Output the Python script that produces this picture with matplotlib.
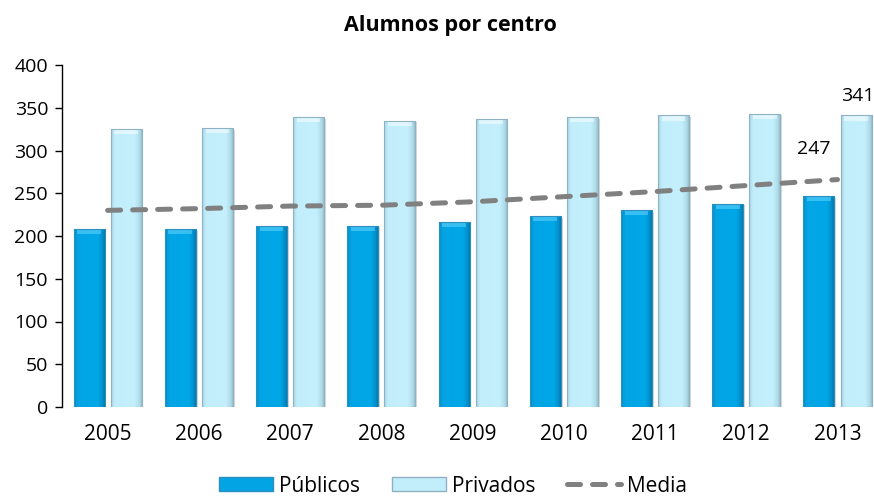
import numpy as np
import matplotlib
matplotlib.use("Agg")
import matplotlib.pyplot as plt
from matplotlib.patches import Rectangle
from matplotlib.lines import Line2D
from matplotlib.colors import LinearSegmentedColormap

years = ["2005", "2006", "2007", "2008", "2009", "2010", "2011", "2012", "2013"]
publicos = [208, 208, 212, 212, 216, 223, 230, 238, 247]
privados = [325, 326, 339, 335, 337, 339, 341, 343, 341]
media = [230, 232, 235, 236, 240, 246, 252, 259, 266]
yticks = [0, 50, 100, 150, 200, 250, 300, 350, 400]

plt.rcParams['font.family'] = ['Open Sans', 'DejaVu Sans']

W, H = 874, 497
fig = plt.figure(figsize=(W / 100, H / 100), dpi=100)
ax = fig.add_axes([62 / W, 90 / H, 812 / W, 342 / H])

x = np.arange(len(years))
bw = 0.34
off = 0.203

pub_cmap = LinearSegmentedColormap.from_list(
    "pub", [(0, "#0790c8"), (0.12, "#03a4e4"), (0.75, "#00a8e8"), (0.9, "#0390cc"), (1, "#04709e")])
priv_cmap = LinearSegmentedColormap.from_list(
    "priv", [(0, "#a8d4e4"), (0.12, "#c2eefc"), (0.75, "#c4f0fd"), (0.9, "#b0dcea"), (1, "#90b8c6")])
grad = np.linspace(0, 1, 64).reshape(1, -1)

def draw_bars(xs, vals, cmap, edge, topcol):
    bars = ax.bar(xs, vals, width=bw, color="none", edgecolor=edge, linewidth=0.8, zorder=3)
    for b in bars:
        bx, by = b.get_x(), b.get_y()
        bwid, bh = b.get_width(), b.get_height()
        ax.add_patch(Rectangle((bx + 0.02, by - 2), bwid, bh, facecolor="#b0b0b0", alpha=0.5,
                               edgecolor="none", zorder=1.5))
        im = ax.imshow(grad, extent=(bx, bx + bwid, by, by + bh), aspect="auto", cmap=cmap,
                       zorder=2, interpolation="bicubic")
        im.set_clip_path(b)
        ax.add_patch(Rectangle((bx + 0.04, by + bh - 6), bwid - 0.08, 6, facecolor=topcol, alpha=0.5,
                               edgecolor="none", zorder=2.5))
    return bars

draw_bars(x - off, publicos, pub_cmap, "#2d8fbd", "#6fd8ff")
draw_bars(x + off, privados, priv_cmap, "#8fb2c2", "#ffffff")

ax.plot(x, media, color="#808080", linewidth=3.6, dashes=(2.6, 2.4),
        dash_capstyle="round", solid_capstyle="round", zorder=4)

ax.annotate(str(publicos[-1]), (x[-1] - off, publicos[-1]), xytext=(-4, 34),
            textcoords="offset points", ha="center", va="center", fontsize=14, color="#000000")
ax.annotate(str(privados[-1]), (x[-1] + off, privados[-1]), xytext=(1, 14),
            textcoords="offset points", ha="center", va="center", fontsize=14, color="#000000")

ax.set_xlim(-0.5, 8.4)
ax.set_ylim(0, 400)
ax.set_yticks(yticks)
ax.set_yticklabels([str(v) for v in yticks], fontsize=14)
ax.set_xticks(x)
ax.set_xticklabels(years, fontsize=15)
ax.tick_params(axis="x", length=0, pad=12)
ax.tick_params(axis="y", length=5, width=1, direction="out", pad=5, color="#000000")
for s in ["top", "right", "bottom"]:
    ax.spines[s].set_visible(False)
ax.spines["left"].set_color("#000000")
ax.spines["left"].set_linewidth(1)

fig.text(450 / W, 1 - 26 / H, "Alumnos por centro", ha="center", va="center",
         fontsize=15.5, fontweight="bold")

handles = [
    Rectangle((0, 0), 1, 1, facecolor="#03a4e4", edgecolor="#2d8fbd"),
    Rectangle((0, 0), 1, 1, facecolor="#c2eefc", edgecolor="#8fb2c2"),
    Line2D([0], [0], color="#808080", linewidth=3.6, dashes=(2.6, 2.4), dash_capstyle="round"),
]
fig.legend(handles, ["Públicos", "Privados", "Media"], loc="center", ncol=3,
           bbox_to_anchor=(453 / W, 1 - 486 / H), frameon=False, fontsize=15,
           handlelength=2.6, handleheight=0.67, handletextpad=0.3, columnspacing=1.5,
           borderpad=0.1)

fig.savefig("out.png", dpi=100)
